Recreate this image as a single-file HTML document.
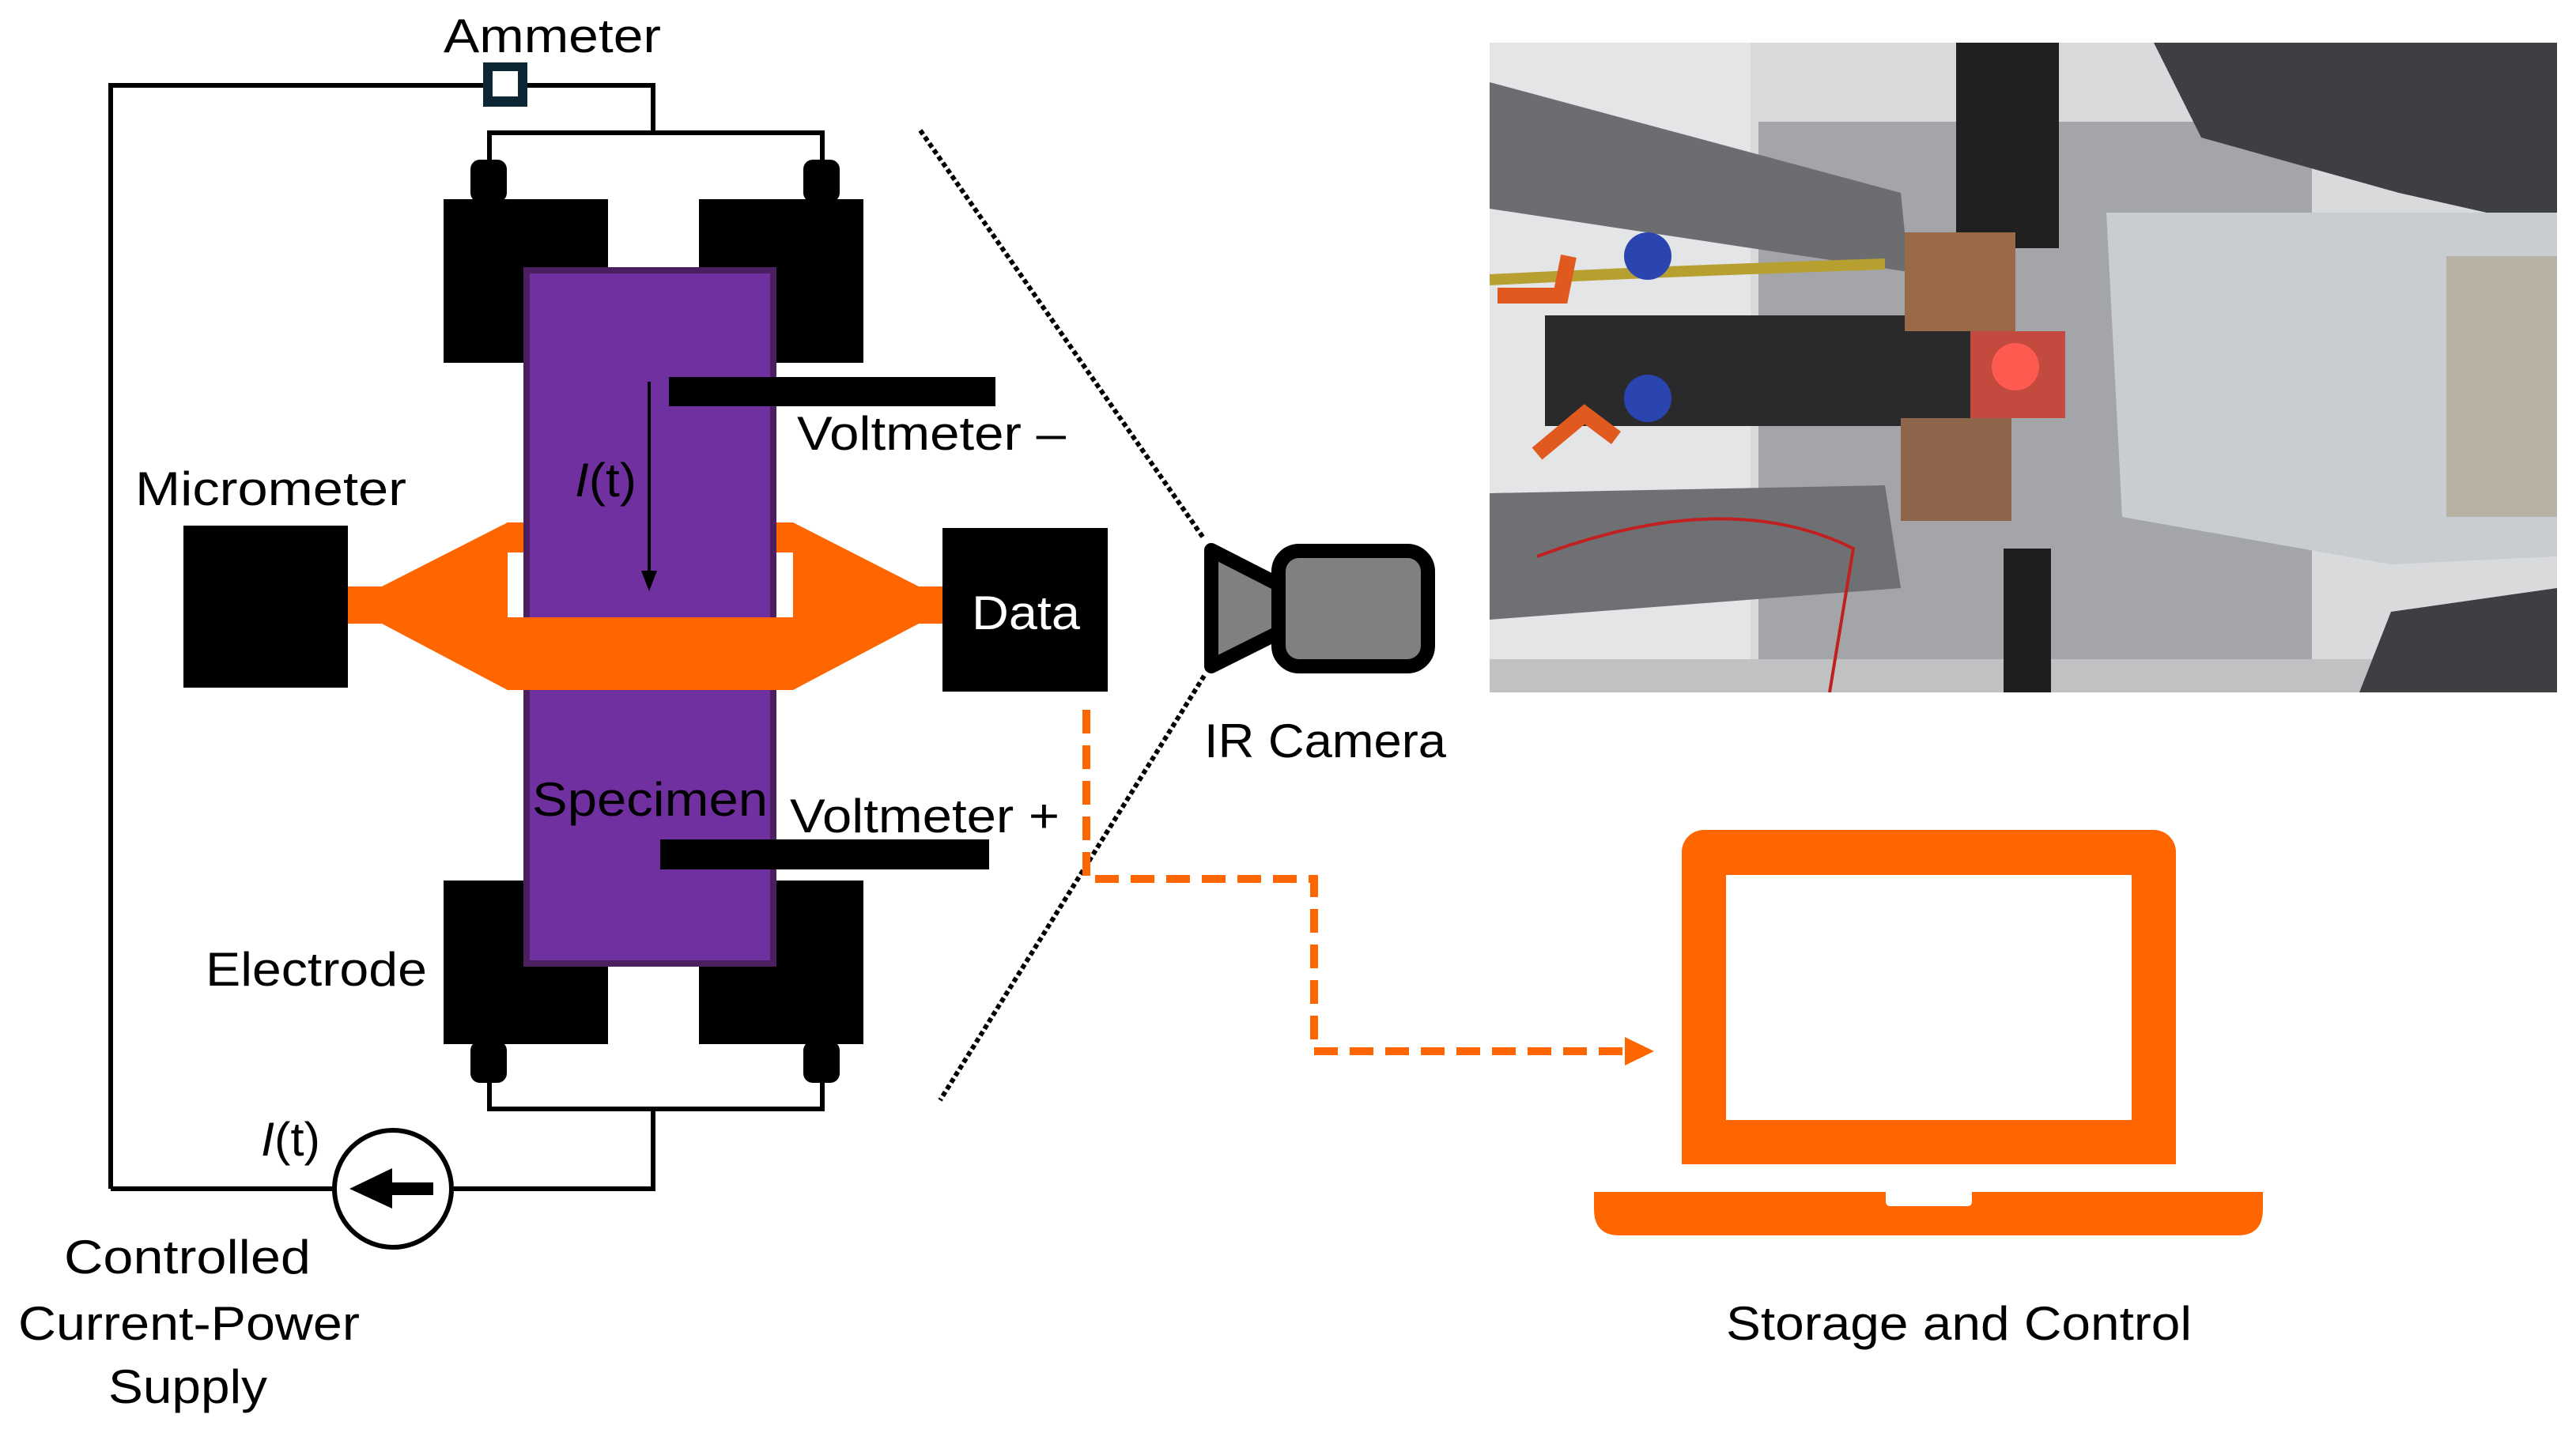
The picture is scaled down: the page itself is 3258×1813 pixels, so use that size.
<!DOCTYPE html>
<html><head><meta charset="utf-8"><style>
html,body{margin:0;padding:0;background:#fff}
svg{display:block}
text{font-family:"Liberation Sans",sans-serif;font-size:60px;fill:#000}
</style></head><body>
<svg width="3258" height="1813" viewBox="0 0 3258 1813" xmlns="http://www.w3.org/2000/svg">
<rect width="3258" height="1813" fill="#fff"/>
<!-- circuit wires -->
<g fill="none" stroke="#000" stroke-width="6">
<polyline points="140,1504 140,108 826,108 826,168"/>
<polyline points="619,252 619,168 1040,168 1040,252"/>
<polyline points="619,1321 619,1403 1040,1403 1040,1321"/>
<polyline points="826,1403 826,1504 572,1504"/>
<line x1="140" y1="1504" x2="422" y2="1504"/>
</g>
<!-- ammeter -->
<rect x="611" y="79" width="56" height="56" fill="#0c2733"/>
<rect x="623" y="90" width="32" height="32" fill="#fff"/>
<!-- terminals -->
<rect x="595" y="202" width="46" height="54" rx="12" fill="#000"/>
<rect x="1016" y="202" width="46" height="54" rx="12" fill="#000"/>
<rect x="595" y="1317" width="46" height="53" rx="12" fill="#000"/>
<rect x="1016" y="1317" width="46" height="53" rx="12" fill="#000"/>
<!-- electrodes -->
<rect x="561" y="252" width="208" height="207" fill="#000"/>
<rect x="884" y="252" width="208" height="207" fill="#000"/>
<rect x="561" y="1114" width="208" height="207" fill="#000"/>
<rect x="884" y="1114" width="208" height="207" fill="#000"/>
<!-- orange micrometer jaws -->
<polygon fill="#ff6600" points="440,742 483,742 642,661 1003,661 1162,742 1192,742 1192,789 1162,789 1003,873 642,873 483,789 440,789"/>
<rect x="642" y="699" width="23" height="82" fill="#fff"/>
<rect x="982" y="699" width="21" height="82" fill="#fff"/>
<!-- specimen -->
<rect x="666" y="342" width="312" height="877" fill="#7030a0" stroke="#4b1f60" stroke-width="8"/>
<rect x="642" y="781" width="361" height="92" fill="#ff6600"/>
<!-- voltmeter bars -->
<rect x="846" y="477" width="413" height="37" fill="#000"/>
<rect x="835" y="1062" width="416" height="38" fill="#000"/>
<!-- current arrow -->
<line x1="821" y1="483" x2="821" y2="725" stroke="#000" stroke-width="4"/>
<polygon points="811,722 831,722 821,748" fill="#000"/>
<!-- boxes -->
<rect x="232" y="665" width="208" height="205" fill="#000"/>
<rect x="1192" y="668" width="209" height="207" fill="#000"/>
<!-- power supply -->
<circle cx="497" cy="1504" r="74" fill="#fff" stroke="#000" stroke-width="6"/>
<polygon points="442,1504 496,1478 496,1496 548,1496 548,1512 496,1512 496,1529" fill="#000"/>
<!-- dotted lines -->
<g stroke="#000" stroke-width="6" stroke-dasharray="6 4" fill="none">
<line x1="1164" y1="165" x2="1523" y2="682"/>
<line x1="1523" y1="855" x2="1189" y2="1392"/>
</g>
<!-- camera -->
<polygon points="1532,696 1626,744 1626,796 1532,843" fill="#808080" stroke="#000" stroke-width="18" stroke-linejoin="round"/>
<rect x="1617" y="697" width="189" height="146" rx="26" fill="#808080" stroke="#000" stroke-width="18"/>
<!-- orange dashed connector -->
<polyline points="1374,898 1374,1112 1662,1112 1662,1330 2052,1330" fill="none" stroke="#ff6600" stroke-width="10" stroke-dasharray="30 15"/>
<polygon points="2055,1312 2092,1330 2055,1348" fill="#ff6600"/>
<!-- laptop -->
<rect x="2127" y="1050" width="625" height="423" rx="28" fill="#ff6600"/>
<rect x="2127" y="1440" width="625" height="33" fill="#ff6600"/>
<rect x="2183" y="1107" width="513" height="310" fill="#fff"/>
<path d="M2016,1508 H2862 V1530 Q2862,1563 2830,1563 H2048 Q2016,1563 2016,1530 Z" fill="#ff6600"/>
<path d="M2385,1508 H2494 V1520 Q2494,1526 2488,1526 H2391 Q2385,1526 2385,1520 Z" fill="#fff"/>
<!-- photo -->
<svg x="1884" y="54" width="1350" height="822" viewBox="0 0 1350 822">
<rect width="1350" height="822" fill="#d9dadc"/>
<rect x="0" y="0" width="330" height="822" fill="#e4e5e7"/>
<rect x="340" y="100" width="700" height="722" fill="#a4a5a8"/>
<polygon points="0,50 520,190 530,290 0,210" fill="#6b6d70"/>
<polygon points="0,570 500,560 520,690 0,730" fill="#6e7073"/>
<rect x="0" y="780" width="1350" height="42" fill="#c0c1c3"/>
<polygon points="840,0 1350,0 1350,235 1150,190 900,120" fill="#3d3f43"/>
<polygon points="1140,720 1350,690 1350,822 1100,822" fill="#3d3f43"/>
<rect x="590" y="0" width="130" height="260" fill="#202020"/>
<rect x="650" y="640" width="60" height="182" fill="#1e1e1e"/>
<rect x="70" y="345" width="540" height="140" fill="#2a2a2c"/>
<rect x="525" y="240" width="140" height="125" fill="#9a6a48"/>
<rect x="520" y="475" width="140" height="130" fill="#8e644a"/>
<rect x="608" y="365" width="120" height="110" fill="#c24a3e"/>
<circle cx="665" cy="410" r="30" fill="#ff5a50"/>
<polygon points="780,215 1350,215 1350,650 1140,660 800,600" fill="#c9ccd1"/>
<rect x="1210" y="270" width="140" height="330" fill="#b8b2a4"/>
<path d="M0,300 Q200,290 500,280" stroke="#b8a030" stroke-width="14" fill="none"/>
<path d="M10,320 L90,320 100,270" stroke="#e05a20" stroke-width="20" fill="none"/>
<path d="M60,520 L120,470 160,500" stroke="#e05a20" stroke-width="20" fill="none"/>
<circle cx="200" cy="270" r="30" fill="#2a45b0"/>
<circle cx="200" cy="450" r="30" fill="#2a45b0"/>
<path d="M60,650 Q300,560 460,640 L430,822" stroke="#c02020" stroke-width="4" fill="none"/>
</svg>
<!-- labels -->
<text x="561" y="66" textLength="275" lengthAdjust="spacingAndGlyphs">Ammeter</text>
<text x="1008" y="569" textLength="340" lengthAdjust="spacingAndGlyphs">Voltmeter –</text>
<text x="727" y="628" textLength="78" lengthAdjust="spacingAndGlyphs"><tspan font-style="italic">I</tspan>(t)</text>
<text x="171" y="639" textLength="343" lengthAdjust="spacingAndGlyphs">Micrometer</text>
<text x="1229" y="796" textLength="137" lengthAdjust="spacingAndGlyphs" style="fill:#fff">Data</text>
<text x="1523" y="958" textLength="306" lengthAdjust="spacingAndGlyphs">IR Camera</text>
<text x="673" y="1032" textLength="298" lengthAdjust="spacingAndGlyphs">Specimen</text>
<text x="999" y="1053" textLength="341" lengthAdjust="spacingAndGlyphs">Voltmeter +</text>
<text x="260" y="1247" textLength="280" lengthAdjust="spacingAndGlyphs">Electrode</text>
<text x="330" y="1462" textLength="75" lengthAdjust="spacingAndGlyphs"><tspan font-style="italic">I</tspan>(t)</text>
<text x="81" y="1611" textLength="312" lengthAdjust="spacingAndGlyphs">Controlled</text>
<text x="23" y="1695" textLength="432" lengthAdjust="spacingAndGlyphs">Current-Power</text>
<text x="137" y="1775" textLength="201" lengthAdjust="spacingAndGlyphs">Supply</text>
<text x="2183" y="1695" textLength="589" lengthAdjust="spacingAndGlyphs">Storage and Control</text>
</svg>
</body></html>
